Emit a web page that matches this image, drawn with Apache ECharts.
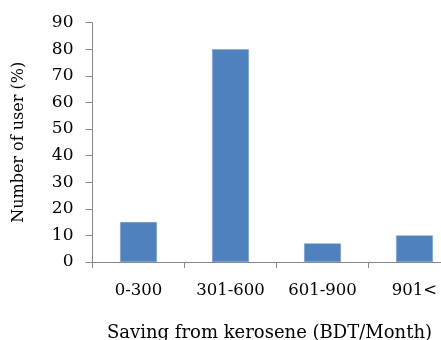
<!DOCTYPE html>
<html>
<head>
<meta charset="utf-8">
<script src="https://cdn.jsdelivr.net/npm/echarts@6/dist/echarts.min.js"></script>
<style>html,body{margin:0;padding:0;background:#fff}#c{width:441px;height:340px}</style>
</head>
<body>
<div id="c"></div>
<script>
var categories = ['0-300', '301-600', '601-900', '901<'];
var values = [15, 80, 7, 10];
var yMin = 0, yMax = 90, yInterval = 10;
var xTitle = 'Saving from kerosene (BDT/Month)';
var yTitle = 'Number of user (%)';

var chart = echarts.init(document.getElementById('c'), null, {renderer: 'canvas'});
var font = '"DejaVu Serif", "Liberation Serif", serif';
chart.setOption({
  animation: false,
  grid: {left: 92.5, width: 368, top: 22.7, bottom: 78, containLabel: false, outerBoundsMode: 'none'},
  xAxis: {
    type: 'category',
    data: categories,
    name: xTitle,
    nameLocation: 'middle',
    nameGap: 62,
    nameTextStyle: {fontFamily: font, fontSize: 18, color: '#000', padding: [0, 14, 0, 0]},
    axisLine: {lineStyle: {color: '#868686', width: 1}},
    axisTick: {show: true, length: 6, alignWithLabel: false, lineStyle: {color: '#868686'}},
    axisLabel: {fontFamily: font, fontSize: 16.5, color: '#000', margin: 20}
  },
  yAxis: {
    type: 'value',
    min: yMin, max: yMax, interval: yInterval,
    name: yTitle,
    nameLocation: 'middle',
    nameGap: 66,
    nameRotate: 90,
    nameTextStyle: {fontFamily: font, fontSize: 16, color: '#000'},
    axisLine: {show: true, lineStyle: {color: '#868686', width: 1}},
    axisTick: {show: true, length: 7, lineStyle: {color: '#868686'}},
    axisLabel: {fontFamily: font, fontSize: 17, color: '#000', margin: 19},
    splitLine: {show: false}
  },
  series: [{
    type: 'bar',
    data: values,
    barWidth: '40%',
    itemStyle: {color: '#4F81BD', borderColor: '#7FA2CF', borderWidth: 0.5}
  }]
});
</script>
</body>
</html>
